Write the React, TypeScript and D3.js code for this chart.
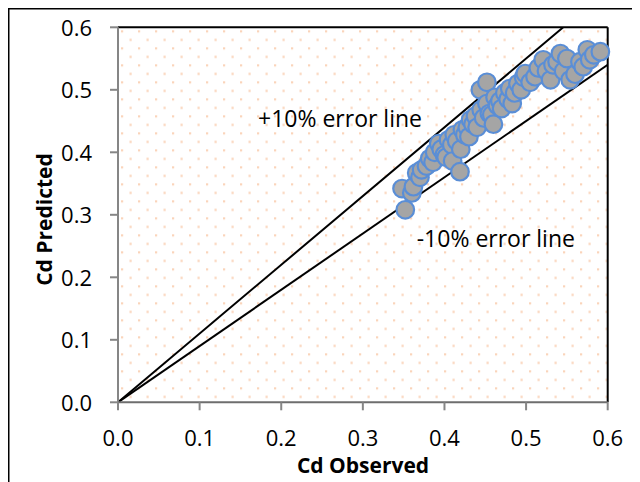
import React from "react";
import * as d3 from "d3";

const observed = [
  0.352, 0.348, 0.360, 0.362, 0.366, 0.370, 0.372, 0.378, 0.382, 0.386,
  0.388, 0.393, 0.396, 0.400, 0.402, 0.405, 0.409, 0.410, 0.412, 0.415,
  0.419, 0.420, 0.422, 0.425, 0.428, 0.430, 0.432, 0.435, 0.438, 0.440,
  0.444, 0.445, 0.448, 0.452, 0.452, 0.455, 0.458, 0.460, 0.462, 0.465,
  0.468, 0.470, 0.474, 0.478, 0.480, 0.483, 0.486, 0.490, 0.494, 0.497,
  0.499, 0.505, 0.511, 0.515, 0.521, 0.525, 0.530, 0.533, 0.538, 0.542,
  0.546, 0.550, 0.554, 0.560, 0.566, 0.570, 0.575, 0.578, 0.583, 0.591,
];
const predicted = [
  0.308, 0.342, 0.335, 0.345, 0.367, 0.360, 0.372, 0.378, 0.390, 0.384,
  0.400, 0.414, 0.405, 0.396, 0.392, 0.420, 0.412, 0.386, 0.428, 0.418,
  0.369, 0.405, 0.436, 0.428, 0.440, 0.425, 0.452, 0.445, 0.458, 0.440,
  0.500, 0.468, 0.455, 0.512, 0.478, 0.462, 0.460, 0.445, 0.488, 0.475,
  0.482, 0.470, 0.495, 0.485, 0.502, 0.478, 0.495, 0.510, 0.500, 0.520,
  0.526, 0.512, 0.521, 0.535, 0.548, 0.530, 0.516, 0.540, 0.545, 0.558,
  0.530, 0.550, 0.516, 0.525, 0.545, 0.537, 0.564, 0.548, 0.556, 0.561,
];
const ticks = [0, 0.1, 0.2, 0.3, 0.4, 0.5, 0.6];
const errorSlopes = [1.1, 0.9];
const errorLabels = ["+10% error line", "-10% error line"];

const FONT = "'Open Sans', Lato, sans-serif";

export default function App() {
  const left = 118, right = 607.7, top = 27.3, bottom = 402.3;
  const x = d3.scaleLinear().domain([0, 0.6]).range([left, right]);
  const y = d3.scaleLinear().domain([0, 0.6]).range([bottom, top]);
  const fmt = d3.format(".1f");
  const line = d3.line<[number, number]>().x((d) => x(d[0])).y((d) => y(d[1]));
  const pts = observed.map((o, i) => [o, predicted[i]] as [number, number]);

  return (
    <svg width={632} height={474} style={{ display: "block", overflow: "hidden" }}>
      <g transform="translate(-8,-8)">
        <defs>
          <pattern id="dots" patternUnits="userSpaceOnUse" width={17} height={17} x={left} y={top}>
            <rect x={3} y={3} width={2.2} height={2.2} fill="#FAD4BA" />
            <rect x={11.5} y={11.5} width={2.2} height={2.2} fill="#FAD4BA" />
          </pattern>
          <clipPath id="plotclip">
            <rect x={left} y={top} width={right - left} height={bottom - top} />
          </clipPath>
        </defs>
        <rect x={8.75} y={8.75} width={700} height={600} fill="#fff" stroke="#000" strokeWidth={1.5} />
        <rect x={left} y={top} width={right - left} height={bottom - top} fill="url(#dots)" />
        <line x1={left} x2={right} y1={top} y2={top} stroke="#000" strokeWidth={2} />
        <line x1={right} x2={right} y1={top} y2={bottom} stroke="#000" strokeWidth={2} />
        <g clipPath="url(#plotclip)">
          {errorSlopes.map((s, i) => (
            <path key={i} d={line([[0, 0], [0.6, 0.6 * s]]) || ""} stroke="#000" strokeWidth={2} fill="none" />
          ))}
        </g>
        <line x1={left} x2={left} y1={top} y2={bottom} stroke="#868686" strokeWidth={2} />
        <line x1={left} x2={right} y1={bottom} y2={bottom} stroke="#6e6e6e" strokeWidth={2} />
        {ticks.map((t) => (
          <g key={"y" + t}>
            <line x1={left - 8} x2={left} y1={y(t)} y2={y(t)} stroke="#868686" strokeWidth={2} />
            <text x={92} y={y(t) + 8.5} textAnchor="end" fontFamily={FONT} fontSize={22} fill="#000">
              {fmt(t)}
            </text>
          </g>
        ))}
        {ticks.map((t) => (
          <g key={"x" + t}>
            <line x1={x(t)} x2={x(t)} y1={bottom} y2={bottom + 8} stroke="#868686" strokeWidth={2} />
            <text x={x(t)} y={446} textAnchor="middle" fontFamily={FONT} fontSize={22} fill="#000">
              {fmt(t)}
            </text>
          </g>
        ))}
        {pts.map((p, i) => (
          <circle key={i} cx={x(p[0])} cy={y(p[1])} r={8.8} fill="#A5A5A5" stroke="#5A8ED6" strokeWidth={2.2} />
        ))}
        <text x={258} y={126.7} fontFamily={FONT} fontSize={23} fill="#000">{errorLabels[0]}</text>
        <text x={416.7} y={247.3} fontFamily={FONT} fontSize={23} fill="#000">{errorLabels[1]}</text>
        <text x={363} y={473.3} textAnchor="middle" fontFamily={FONT} fontSize={21} fontWeight="bold" fill="#000">
          Cd Observed
        </text>
        <text transform={`translate(51.5,219.5) rotate(-90)`} textAnchor="middle" fontFamily={FONT} fontSize={21} fontWeight="bold" fill="#000">
          Cd Predicted
        </text>
      </g>
    </svg>
  );
}
